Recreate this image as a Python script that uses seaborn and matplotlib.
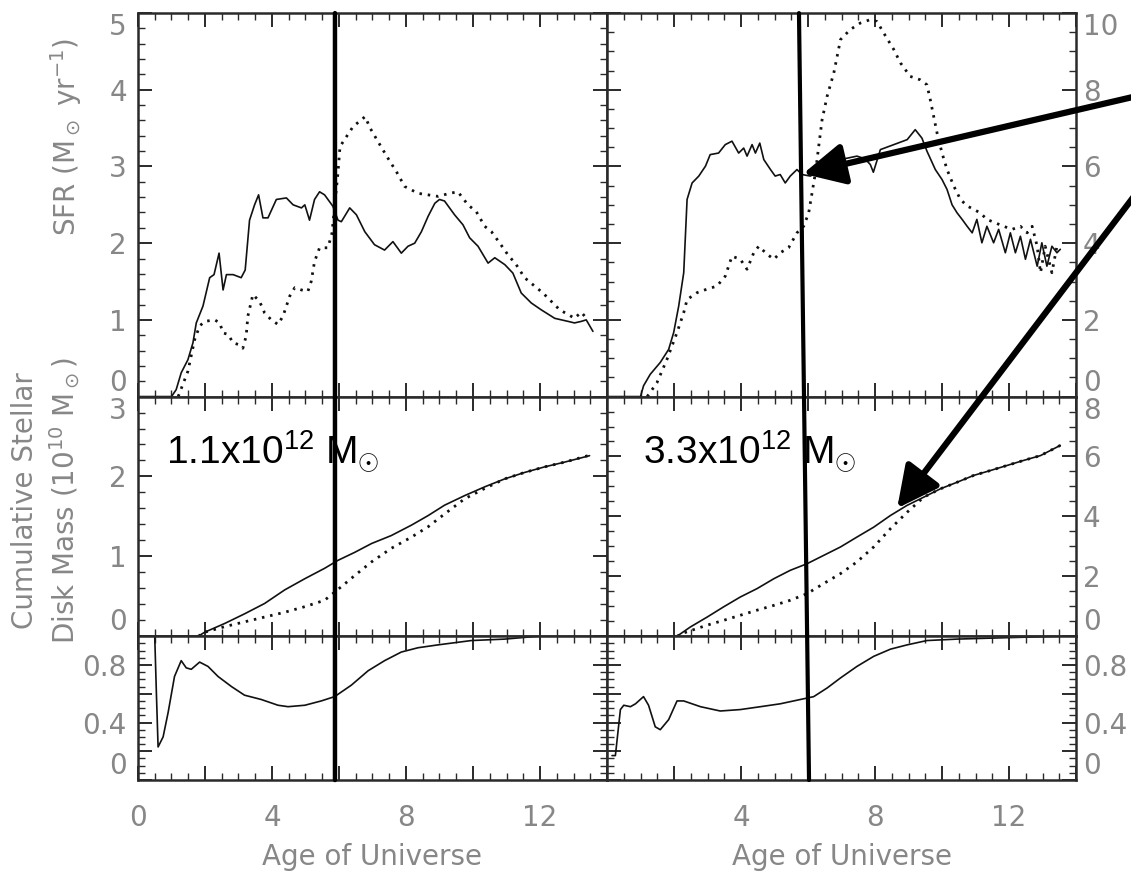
import numpy as np
import pandas as pd
import matplotlib
matplotlib.use("Agg")
import matplotlib.pyplot as plt
import seaborn as sns
from matplotlib.ticker import MultipleLocator
from matplotlib.patches import ConnectionPatch

# ---------------- data ----------------
# Top-left: SFR (Msun/yr), 1.1e12 Msun halo
sfr1_solid_x = [0, 1.0, 1.14, 1.29, 1.49, 1.64, 1.74, 1.94, 2.14, 2.27, 2.42, 2.54, 2.64, 2.84, 3.08, 3.2,
                3.33, 3.48, 3.60, 3.73, 3.88, 4.13, 4.43, 4.63, 4.88, 4.98, 5.12, 5.27, 5.42, 5.57, 5.82,
                5.97, 6.07, 6.32, 6.52, 6.77, 7.06, 7.36, 7.61, 7.86, 8.06, 8.26, 8.46, 8.66, 8.86, 9.0,
                9.15, 9.45, 9.70, 9.90, 10.15, 10.45, 10.65, 10.95, 11.19, 11.44, 11.74, 12.04, 12.44,
                12.84, 13.03, 13.23, 13.38, 13.58]
sfr1_solid_y = [0, 0, 0.09, 0.31, 0.48, 0.70, 0.96, 1.18, 1.55, 1.59, 1.87, 1.39, 1.59, 1.59, 1.55, 1.65,
                2.30, 2.50, 2.63, 2.33, 2.33, 2.57, 2.59, 2.50, 2.46, 2.50, 2.30, 2.57, 2.67, 2.63, 2.48,
                2.30, 2.28, 2.46, 2.37, 2.15, 1.98, 1.91, 2.02, 1.87, 1.96, 2.00, 2.15, 2.35, 2.52, 2.57,
                2.55, 2.37, 2.24, 2.07, 1.96, 1.74, 1.81, 1.72, 1.61, 1.35, 1.22, 1.13, 1.02,
                0.98, 0.96, 0.98, 1.00, 0.85]
sfr1_dot_x = [1.2, 1.49, 1.69, 1.84, 1.99, 2.29, 2.44, 2.54, 2.69, 2.84, 2.99, 3.13, 3.23, 3.28, 3.43, 3.63,
              3.78, 3.98, 4.18, 4.33, 4.53, 4.68, 4.88, 5.07, 5.17, 5.27, 5.42, 5.67, 5.79, 5.97, 6.03,
              6.42, 6.78, 6.93, 7.13, 7.43, 7.73, 7.96, 8.36, 8.66, 8.96, 9.3, 9.55, 9.85, 10.1, 10.35,
              10.55, 10.8, 11.04, 11.29, 11.54, 11.84, 12.09, 12.34, 12.59, 12.84, 13.03, 13.23, 13.43]
sfr1_dot_y = [0, 0.33, 0.74, 0.92, 0.98, 1.00, 0.96, 0.83, 0.81, 0.70, 0.68, 0.63, 0.79, 1.05, 1.33, 1.24,
              1.09, 1.00, 0.94, 1.05, 1.31, 1.42, 1.39, 1.37, 1.50, 1.76, 1.94, 1.94, 2.13, 2.92, 3.26,
              3.52, 3.65, 3.50, 3.35, 3.13, 2.92, 2.74, 2.65, 2.63, 2.61, 2.65, 2.67, 2.50, 2.41, 2.22,
              2.15, 2.00, 1.85, 1.72, 1.55, 1.44, 1.35, 1.24, 1.13, 1.07, 1.02, 1.10, 1.00]

# Top-right: SFR, 3.3e12 Msun halo
sfr2_solid_x = [0, 1.0, 1.09, 1.29, 1.59, 1.84, 1.99, 2.14, 2.29, 2.39, 2.54, 2.74, 2.94, 3.08, 3.33, 3.53,
                3.73, 3.93, 4.08, 4.18, 4.33, 4.43, 4.56, 4.68, 4.88, 5.02, 5.17, 5.32, 5.47, 5.67, 5.82,
                6.07, 6.5, 6.97, 7.46, 7.7, 7.86, 7.95, 8.16, 8.56, 8.96, 9.2, 9.4, 9.55, 9.80, 10.0,
                10.15, 10.3, 10.45, 10.6, 10.75, 10.9, 11.04, 11.19, 11.34, 11.54, 11.69, 11.89, 12.04,
                12.19, 12.34, 12.49, 12.64, 12.84, 12.98, 13.13, 13.28, 13.43, 13.53]
sfr2_solid_y = [0, 0, 0.28, 0.58, 0.89, 1.23, 1.67, 2.36, 3.23, 5.14, 5.57, 5.75, 6.01, 6.31, 6.35, 6.57,
                6.66, 6.35, 6.48, 6.27, 6.57, 6.35, 6.61, 6.18, 5.92, 5.75, 5.79, 5.57, 5.75, 5.92, 5.79,
                5.75, 5.95, 6.18, 6.27, 6.20, 6.05, 5.85, 6.44, 6.57, 6.70, 6.96, 6.74, 6.40, 5.92, 5.66,
                5.40, 5.00, 4.79, 4.62, 4.44, 4.27, 4.62, 4.01, 4.44, 4.01, 4.36, 3.75, 4.27,
                3.75, 4.18, 3.58, 4.10, 3.40, 4.01, 3.40, 3.92, 3.75, 3.84]
sfr2_dot_x = [1.2, 1.49, 1.79, 2.09, 2.29, 2.39, 2.69, 2.98, 3.28, 3.53, 3.73, 3.98, 4.18, 4.38, 4.53, 4.78,
              4.98, 5.17, 5.42, 5.67, 5.87, 6.02, 6.12, 6.22, 6.32, 6.42, 6.57, 6.77, 6.97, 7.26, 7.56,
              7.86, 8.06, 8.26, 8.56, 8.76, 9.05, 9.35, 9.55, 9.65, 9.75, 9.85, 10.0, 10.15, 10.35,
              10.55, 10.75, 10.95, 11.14, 11.34, 11.59, 11.84, 12.09, 12.34, 12.54, 12.69, 12.84,
              12.94, 13.08, 13.28, 13.43]
sfr2_dot_y = [0, 0.36, 0.97, 1.67, 2.19, 2.53, 2.71, 2.80, 2.88, 3.14, 3.66, 3.58, 3.32, 3.75, 3.92, 3.71,
              3.58, 3.75, 3.88, 4.27, 4.44, 4.79, 5.31, 5.83, 6.53, 7.22, 7.83, 8.44, 9.31, 9.57, 9.74,
              9.83, 9.78, 9.48, 9.05, 8.70, 8.35, 8.26, 8.13, 7.74, 7.31, 6.88, 6.35, 5.92, 5.49,
              5.14, 4.97, 4.88, 4.79, 4.62, 4.53, 4.44, 4.36, 4.44, 4.27, 4.44, 3.92,
              3.23, 3.92, 3.23, 3.92]

# Middle-left: cumulative stellar disk mass (1e10 Msun)
mass1_solid_x = [0, 1.8, 1.99, 2.59, 3.18, 3.78, 4.38, 4.98, 5.57, 5.97, 6.47, 6.97, 7.56, 8.16, 8.66, 9.15,
                 9.75, 10.35, 10.95, 11.54, 12.14, 12.74, 13.48]
mass1_solid_y = [0, 0, 0.05, 0.16, 0.28, 0.41, 0.58, 0.72, 0.85, 0.95, 1.05, 1.16, 1.26, 1.39, 1.51, 1.64,
                 1.76, 1.87, 1.97, 2.05, 2.12, 2.18, 2.26]
mass1_dot_x = [1.8, 1.99, 2.59, 3.18, 3.78, 4.38, 4.98, 5.57, 6.07, 6.47, 6.97, 7.56, 8.16, 8.66, 9.15, 9.75,
               10.35, 10.95, 11.54, 12.14, 12.74, 13.43]
mass1_dot_y = [0, 0.05, 0.12, 0.18, 0.24, 0.30, 0.37, 0.45, 0.62, 0.76, 0.93, 1.10, 1.24, 1.37, 1.53, 1.72,
               1.85, 1.97, 2.05, 2.12, 2.18, 2.26]

# Middle-right
mass2_solid_x = [0, 2.09, 2.49, 2.99, 3.48, 3.98, 4.48, 4.98, 5.47, 5.97, 6.47, 6.97, 7.46, 7.96, 8.46, 8.96,
                 9.45, 9.95, 10.45, 10.95, 11.44, 11.94, 12.44, 12.94, 13.53]
mass2_solid_y = [0, 0, 0.31, 0.64, 0.98, 1.31, 1.59, 1.92, 2.20, 2.42, 2.70, 2.98, 3.31, 3.64, 4.03, 4.37,
                 4.64, 4.92, 5.14, 5.37, 5.53, 5.70, 5.87, 6.03, 6.37]
mass2_dot_x = [2.09, 2.29, 2.99, 3.48, 3.98, 4.48, 4.98, 5.47, 5.97, 6.47, 6.97, 7.46, 7.96, 8.46, 8.96, 9.45,
               9.95, 10.45, 10.95, 11.44, 11.94, 12.44, 12.94, 13.53]
mass2_dot_y = [0, 0.11, 0.37, 0.53, 0.70, 0.87, 1.03, 1.20, 1.42, 1.76, 2.09, 2.48, 2.98, 3.59, 4.14, 4.64,
               4.92, 5.14, 5.37, 5.53, 5.70, 5.87, 6.03, 6.37]

# Bottom: fraction
frac1_x = [0.5, 0.55, 0.6, 0.75, 0.9, 1.09, 1.29, 1.44, 1.59, 1.84, 2.09, 2.39, 2.79, 3.18, 3.68, 4.18, 4.48,
           4.98, 5.47, 5.87, 6.37, 6.87, 7.36, 7.86, 8.36, 8.96, 9.95, 10.95, 11.94, 13.53]
frac1_y = [1.0, 0.6, 0.23, 0.30, 0.47, 0.72, 0.83, 0.78, 0.77, 0.82, 0.79, 0.72, 0.65, 0.59, 0.56, 0.52, 0.51,
           0.52, 0.55, 0.58, 0.66, 0.76, 0.83, 0.89, 0.92, 0.94, 0.97, 0.98, 1.0, 1.0]
frac2_x = [0.15, 0.25, 0.4, 0.5, 0.7, 0.85, 1.09, 1.24, 1.44, 1.59, 1.84, 2.09, 2.29, 2.79, 3.38, 3.98, 4.58,
           5.17, 5.77, 6.17, 6.57, 6.97, 7.46, 7.96, 8.46, 8.96, 9.55, 10.45, 11.94, 13.53]
frac2_y = [0.17, 0.17, 0.49, 0.52, 0.51, 0.53, 0.58, 0.52, 0.37, 0.35, 0.42, 0.55, 0.55, 0.51, 0.48, 0.49,
           0.51, 0.53, 0.56, 0.58, 0.64, 0.71, 0.79, 0.86, 0.91, 0.94, 0.97, 0.98, 0.99, 1.0]

x_ticks = [0, 2, 4, 6, 8, 10, 12, 14]
x_labels_left = ["0", "", "4", "", "8", "", "12", ""]
x_labels_right = ["", "", "4", "", "8", "", "12", ""]
halo_labels = ["1.1x10$^{12}$ M$_{\\odot}$", "3.3x10$^{12}$ M$_{\\odot}$"]

# ---------------- style ----------------
sns.set_theme(style="ticks")
plt.rcParams["font.family"] = ["DejaVu Sans"]
plt.rcParams["mathtext.fontset"] = "dejavusans"
plt.rcParams["mathtext.rm"] = "Liberation Sans"
plt.rcParams["mathtext.it"] = "Liberation Sans"
plt.rcParams["mathtext.sf"] = "Liberation Sans"
plt.rcParams["mathtext.bf"] = "Liberation Sans:bold"
plt.rcParams["xtick.minor.visible"] = True
plt.rcParams["ytick.minor.visible"] = True
plt.rcParams["xtick.minor.size"] = 5
plt.rcParams["ytick.minor.size"] = 5
plt.rcParams["xtick.minor.width"] = 1.0
plt.rcParams["ytick.minor.width"] = 1.0

AXC = "#2a2a2a"
TXC = "#878787"
LC = "#111111"

fig = plt.figure(figsize=(11.31, 8.73), dpi=100)
gs = fig.add_gridspec(3, 2, left=0.122, right=0.9514, top=0.985, bottom=0.1065,
                      height_ratios=[8, 5, 3], hspace=0, wspace=0)
axes = [[fig.add_subplot(gs[r, c]) for c in range(2)] for r in range(3)]


def draw(ax, xs, ys, dotted=False):
    df = pd.DataFrame({"x": xs, "y": ys})
    if dotted:
        sns.lineplot(data=df, x="x", y="y", ax=ax, color=LC, linewidth=2.0,
                     linestyle=(0, (0.9, 2.1)), estimator=None, sort=False)
    else:
        sns.lineplot(data=df, x="x", y="y", ax=ax, color=LC, linewidth=1.2,
                     estimator=None, sort=False)


draw(axes[0][0], sfr1_solid_x, sfr1_solid_y)
draw(axes[0][0], sfr1_dot_x, sfr1_dot_y, dotted=True)
draw(axes[0][1], sfr2_solid_x, sfr2_solid_y)
draw(axes[0][1], sfr2_dot_x, sfr2_dot_y, dotted=True)
draw(axes[1][0], mass1_solid_x, mass1_solid_y)
draw(axes[1][0], mass1_dot_x, mass1_dot_y, dotted=True)
draw(axes[1][1], mass2_solid_x, mass2_solid_y)
draw(axes[1][1], mass2_dot_x, mass2_dot_y, dotted=True)
draw(axes[2][0], frac1_x, frac1_y)
draw(axes[2][1], frac2_x, frac2_y)

yspecs = [
    # (ymax, major ticks, labels, minor step)
    [(5, [0, 1, 2, 3, 4, 5], ["0", "1", "2", "3", "4", "5"], 0.2),
     (10, [0, 2, 4, 6, 8, 10], ["0", "2", "4", "6", "8", "10"], 0.5)],
    [(3, [0, 1, 2, 3], ["0", "1", "2", "3"], 0.2),
     (8, [0, 2, 4, 6, 8], ["0", "2", "4", "6", "8"], 0.5)],
    [(1, [0, 0.2, 0.4, 0.6, 0.8, 1.0], ["0", "", "0.4", "", "0.8", ""], 0.05),
     (1, [0, 0.2, 0.4, 0.6, 0.8, 1.0], ["0", "", "0.4", "", "0.8", ""], 0.05)],
]

for r in range(3):
    for c in range(2):
        ax = axes[r][c]
        ymax, yt, yl, ymin_step = yspecs[r][c]
        ax.set_xlim(0, 14)
        ax.set_ylim(0, ymax)
        ax.set_xticks(x_ticks)
        if r == 2:
            ax.set_xticklabels(x_labels_left if c == 0 else x_labels_right)
        ax.set_yticks(yt)
        ax.set_yticklabels(yl)
        ax.minorticks_on()
        ax.xaxis.set_minor_locator(MultipleLocator(0.5))
        ax.yaxis.set_minor_locator(MultipleLocator(ymin_step))
        ax.tick_params(which="both", direction="in", top=True, bottom=True, left=True, right=True,
                       color=AXC)
        ax.tick_params(which="major", length=10, width=1.4)
        ax.tick_params(which="minor", length=5, width=1.0)
        ax.tick_params(axis="x", which="major", labelbottom=(r == 2), labelsize=20,
                       labelcolor=TXC, pad=17)
        if c == 0:
            ax.tick_params(axis="y", which="major", labelleft=True, labelright=False, labelsize=20,
                           labelcolor=TXC, pad=8)
        else:
            ax.tick_params(axis="y", which="major", labelleft=False, labelright=True, labelsize=20,
                           labelcolor=TXC, pad=5)
        for s in ax.spines.values():
            s.set_color(AXC)
            s.set_linewidth(1.8)
        ax.set_xlabel("")
        ax.set_ylabel("")
        # nudge extreme labels inward
        ticks = ax.yaxis.get_major_ticks()
        ticks[0].label1.set_va("bottom")
        ticks[0].label2.set_va("bottom")
        ticks[-1].label1.set_va("top")
        ticks[-1].label2.set_va("top")

axes[0][0].set_ylabel("SFR (M$_\\odot$ yr$^{-1}$)", fontsize=20, color=TXC)
axes[0][0].yaxis.set_label_coords(-0.115, 0.677)
axes[1][0].set_ylabel("Cumulative Stellar\nDisk Mass (10$^{10}$ M$_\\odot$)", fontsize=20,
                      color=TXC, linespacing=1.3)
axes[1][0].yaxis.set_label_coords(-0.119, 0.567)
for c in range(2):
    axes[2][c].set_xlabel("Age of Universe", fontsize=20, color=TXC)
    axes[2][c].xaxis.set_label_coords(0.5, -0.44)

# halo mass labels
axes[1][0].text(0.84, 2.16, halo_labels[0], fontsize=28, family="Liberation Sans",
                math_fontfamily="custom", ha="left", va="baseline", color="black")
axes[1][1].text(1.07, 5.77, halo_labels[1], fontsize=28, family="Liberation Sans",
                math_fontfamily="custom", ha="left", va="baseline", color="black")

# vertical marker lines
con1 = ConnectionPatch(xyA=(5.88, 5), coordsA=axes[0][0].transData,
                       xyB=(5.88, 0), coordsB=axes[2][0].transData, color="black", lw=3.2)
con2 = ConnectionPatch(xyA=(5.73, 10), coordsA=axes[0][1].transData,
                       xyB=(6.03, 0), coordsB=axes[2][1].transData, color="black", lw=3.0)
fig.add_artist(con1)
fig.add_artist(con2)

# arrows
arrow_kw = dict(arrowstyle="-|>,head_length=1.4,head_width=0.7", lw=4.5, color="black",
                shrinkA=0, shrinkB=0, mutation_scale=18)
axes[0][1].annotate("", xy=(5.85, 5.81), xycoords="data", xytext=(1.002, 0.889),
                    textcoords="figure fraction", arrowprops=arrow_kw, annotation_clip=False)
axes[1][1].annotate("", xy=(8.66, 4.27), xycoords="data", xytext=(1.002, 0.774),
                    textcoords="figure fraction", arrowprops=arrow_kw, annotation_clip=False)

fig.savefig("out.png", dpi=100)
